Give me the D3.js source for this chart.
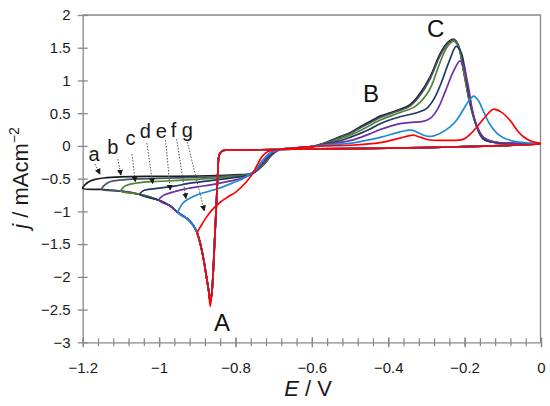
<!DOCTYPE html>
<html>
<head>
<meta charset="utf-8">
<script src="https://cdn.jsdelivr.net/npm/d3@7"></script>
<style>
    body { margin: 0; background: #ffffff; }
    svg { display: block; font-family: "Liberation Sans", Arial, sans-serif; }
</style>
</head>
<body>
<svg id="svg" width="550" height="406"></svg>
<script>
//Globals
const SVG = d3.select("#svg");
const X_TICKS = [-1.2, -1, -0.8, -0.6, -0.4, -0.2, 0];
const Y_TICKS = [-3, -2.5, -2, -1.5, -1, -0.5, 0, 0.5, 1, 1.5, 2];
const CURVE_NAMES = ["a", "b", "c", "d", "e", "f", "g"];
const CURVE_COLORS = ["#1c1c1c", "#44546a", "#548235", "#203864", "#7030a0", "#1f8ad6", "#ff0000"];
const SWITCH_E = [-1.2, -1.15, -1.1, -1.05, -1.0, -0.95, -0.9];
const PEAK_J = [-2.38, -2.38, -2.38, -2.38, -2.38, -2.36, -2.45];

//Cathodic sweep from 0 V down to the nucleation peak
const FORWARD = [
    [0, 0.03], [-0.1, 0.005], [-0.2, -0.01], [-0.3, -0.025], [-0.4, -0.035], [-0.5, -0.04],
    [-0.6, -0.045], [-0.7, -0.055], [-0.8, -0.065], [-0.832, -0.07], [-0.842, -0.13],
    [-0.846, -0.4], [-0.85, -0.9], [-0.854, -1.38], [-0.858, -1.89], [-0.862, -2.25]
];
const PEAK_E = -0.866;
//Falling branch after the peak (shared by all scans)
const ENVELOPE = [
    [-0.870, -2.22], [-0.876, -2.0], [-0.882, -1.78], [-0.888, -1.6], [-0.894, -1.45],
    [-0.9, -1.33], [-0.91, -1.22], [-0.925, -1.12], [-0.95, -1.02], [-0.97, -0.92],
    [-1.0, -0.83], [-1.05, -0.74], [-1.1, -0.69], [-1.15, -0.665], [-1.2, -0.65]
];

//Reverse branches after the switching potential
const REVERSE_A = [[-1.195, -0.6], [-1.185, -0.55], [-1.17, -0.515], [-1.145, -0.49], [-1.1, -0.472], [-1.0, -0.465], [-0.9, -0.46], [-0.825, -0.45], [-0.785, -0.44], [-0.762, -0.43], [-0.745, -0.38], [-0.725, -0.28], [-0.71, -0.17], [-0.70, -0.11], [-0.69, -0.07]];
const REVERSE_B = [[-1.145, -0.61], [-1.135, -0.565], [-1.12, -0.535], [-1.08, -0.51], [-1.0, -0.495], [-0.9, -0.48], [-0.825, -0.46], [-0.785, -0.445], [-0.762, -0.43], [-0.745, -0.38], [-0.725, -0.28], [-0.71, -0.17], [-0.70, -0.11], [-0.69, -0.07]];
const REVERSE_C = [[-1.095, -0.64], [-1.085, -0.6], [-1.063, -0.57], [-1.03, -0.55], [-0.993, -0.54], [-0.95, -0.525], [-0.9, -0.51], [-0.85, -0.49], [-0.8, -0.465], [-0.765, -0.44], [-0.745, -0.385], [-0.727, -0.28], [-0.712, -0.17], [-0.70, -0.11], [-0.69, -0.07]];
const REVERSE_D = [[-1.043, -0.69], [-1.028, -0.665], [-1.0, -0.645], [-0.96, -0.615], [-0.93, -0.58], [-0.9, -0.555], [-0.85, -0.52], [-0.8, -0.48], [-0.768, -0.45], [-0.748, -0.39], [-0.73, -0.28], [-0.714, -0.17], [-0.70, -0.11], [-0.69, -0.07]];
const REVERSE_E = [[-0.99, -0.76], [-0.975, -0.725], [-0.955, -0.69], [-0.93, -0.655], [-0.9, -0.625], [-0.865, -0.595], [-0.825, -0.55], [-0.795, -0.51], [-0.772, -0.47], [-0.752, -0.41], [-0.735, -0.3], [-0.718, -0.18], [-0.705, -0.11], [-0.69, -0.07]];
const REVERSE_F = [[-0.945, -0.94], [-0.935, -0.86], [-0.92, -0.8], [-0.9, -0.745], [-0.865, -0.685], [-0.833, -0.625], [-0.805, -0.56], [-0.781, -0.5], [-0.762, -0.43], [-0.748, -0.37], [-0.733, -0.25], [-0.72, -0.16], [-0.708, -0.1], [-0.69, -0.065]];
const REVERSE_G = [[-0.89, -1.22], [-0.875, -1.08], [-0.86, -0.97], [-0.84, -0.86], [-0.82, -0.78], [-0.80, -0.71], [-0.785, -0.63], [-0.77, -0.54], [-0.755, -0.42], [-0.742, -0.28], [-0.73, -0.16], [-0.716, -0.09], [-0.70, -0.065]];

//Anodic part (stripping peaks B and C)
const ANODIC_START = [[-0.68, -0.05], [-0.66, -0.04], [-0.63, -0.025], [-0.6, -0.01]];
const ANODIC_A = [[-0.56, 0.06], [-0.522, 0.15], [-0.5, 0.2], [-0.465, 0.32], [-0.439, 0.4], [-0.421, 0.455], [-0.378, 0.54], [-0.343, 0.63], [-0.317, 0.8], [-0.29, 1.06], [-0.264, 1.41], [-0.243, 1.59], [-0.228, 1.63], [-0.216, 1.53], [-0.203, 1.16], [-0.186, 0.65], [-0.168, 0.29], [-0.151, 0.11], [-0.116, 0.05], [-0.06, 0.035], [0, 0.03]];
const ANODIC_B = [[-0.56, 0.055], [-0.522, 0.14], [-0.5, 0.19], [-0.465, 0.3], [-0.439, 0.38], [-0.421, 0.435], [-0.378, 0.525], [-0.343, 0.61], [-0.317, 0.77], [-0.29, 1.03], [-0.264, 1.38], [-0.243, 1.57], [-0.228, 1.62], [-0.216, 1.53], [-0.203, 1.16], [-0.186, 0.65], [-0.168, 0.29], [-0.151, 0.11], [-0.116, 0.05], [-0.06, 0.035], [0, 0.03]];
const ANODIC_C = [[-0.56, 0.045], [-0.52, 0.12], [-0.5, 0.165], [-0.465, 0.26], [-0.421, 0.395], [-0.369, 0.51], [-0.33, 0.6], [-0.3, 0.78], [-0.286, 0.93], [-0.264, 1.28], [-0.245, 1.52], [-0.228, 1.60], [-0.216, 1.51], [-0.203, 1.16], [-0.186, 0.65], [-0.168, 0.29], [-0.151, 0.11], [-0.116, 0.05], [-0.06, 0.035], [0, 0.03]];
const ANODIC_D = [[-0.56, 0.035], [-0.52, 0.09], [-0.5, 0.13], [-0.45, 0.25], [-0.421, 0.34], [-0.369, 0.445], [-0.33, 0.5], [-0.3, 0.57], [-0.28, 0.72], [-0.26, 0.98], [-0.24, 1.3], [-0.222, 1.52], [-0.21, 1.44], [-0.2, 1.2], [-0.186, 0.7], [-0.168, 0.3], [-0.151, 0.11], [-0.116, 0.05], [-0.06, 0.035], [0, 0.03]];
const ANODIC_E = [[-0.56, 0.025], [-0.5, 0.08], [-0.45, 0.18], [-0.421, 0.25], [-0.369, 0.34], [-0.34, 0.36], [-0.312, 0.37], [-0.29, 0.42], [-0.27, 0.57], [-0.25, 0.84], [-0.23, 1.13], [-0.212, 1.30], [-0.202, 1.2], [-0.19, 0.9], [-0.178, 0.5], [-0.165, 0.27], [-0.15, 0.13], [-0.12, 0.06], [-0.06, 0.04], [0, 0.03]];
const ANODIC_F = [[-0.56, 0.015], [-0.5, 0.04], [-0.421, 0.13], [-0.369, 0.215], [-0.339, 0.24], [-0.31, 0.17], [-0.29, 0.145], [-0.265, 0.19], [-0.238, 0.29], [-0.22, 0.4], [-0.203, 0.56], [-0.185, 0.72], [-0.176, 0.76], [-0.165, 0.7], [-0.15, 0.52], [-0.134, 0.33], [-0.115, 0.19], [-0.1, 0.13], [-0.07, 0.07], [-0.03, 0.045], [0, 0.035]];
const ANODIC_G = [[-0.56, 0.0], [-0.5, 0.01], [-0.421, 0.05], [-0.369, 0.12], [-0.335, 0.165], [-0.315, 0.13], [-0.29, 0.09], [-0.25, 0.085], [-0.204, 0.1], [-0.185, 0.18], [-0.168, 0.29], [-0.145, 0.45], [-0.125, 0.56], [-0.105, 0.52], [-0.081, 0.39], [-0.06, 0.22], [-0.046, 0.14], [-0.025, 0.07], [0, 0.04]];

const REVERSES = [REVERSE_A, REVERSE_B, REVERSE_C, REVERSE_D, REVERSE_E, REVERSE_F, REVERSE_G];
const ANODICS = [ANODIC_A, ANODIC_B, ANODIC_C, ANODIC_D, ANODIC_E, ANODIC_F, ANODIC_G];

//Annotation letters a-g with dotted arrows: label position, arrow start, arrow tip
const LETTER_POS = [[-1.170, -0.232], [-1.121, -0.125], [-1.075, 0.012], [-1.036, 0.119], [-0.994, 0.119], [-0.962, 0.135], [-0.926, 0.135]];
const ARROW_FROM = [[-1.168, -0.278], [-1.108, -0.202], [-1.071, -0.125], [-1.032, 0.043], [-0.983, 0.089], [-0.954, 0.104], [-0.928, 0.104]];
const ARROW_TO = [[-1.1545, -0.431], [-1.0997, -0.446], [-1.0623, -0.546], [-1.0167, -0.576], [-0.9706, -0.676], [-0.9295, -0.806], [-0.8816, -0.992]];
const PEAK_LABELS = ["A", "B", "C"];
const PEAK_LABEL_POS = [[-0.835, -2.82], [-0.445, 0.67], [-0.276, 1.66]];

const LEFT = 82.7, RIGHT = 541, TOP = 15, BOTTOM = 342.3;
const AXIS_COLOR = "#888888";

main();

function main()
{
    let x_scale = d3.scaleLinear().domain([-1.2, 0]).range([LEFT, RIGHT]);
    let y_scale = d3.scaleLinear().domain([-3, 2]).range([BOTTOM, TOP]);
    let fmt = d3.format("~g");

    //Frame (top and right)
    SVG.append("path")
        .attr("d", `M${LEFT},${TOP}H${RIGHT - 0.5}V${BOTTOM}`)
        .attr("fill", "none")
        .attr("stroke", AXIS_COLOR)
        .attr("stroke-width", 1.3);

    //Minor x ticks
    let minor = SVG.append("g")
        .attr("transform", `translate(0, ${BOTTOM})`)
        .call(d3.axisBottom(x_scale).tickValues(d3.range(-1.2, 0.001, 0.04)).tickFormat("").tickSize(0));
    minor.select(".domain").remove();
    minor.selectAll(".tick line").attr("y1", -4).attr("y2", 4).attr("stroke", AXIS_COLOR).attr("stroke-width", 1.2);

    //X axis
    let x_axis = SVG.append("g")
        .attr("transform", `translate(0, ${BOTTOM})`)
        .call(d3.axisBottom(x_scale).tickValues(X_TICKS).tickFormat(fmt).tickSize(0).tickPadding(0));
    x_axis.select(".domain").attr("stroke", AXIS_COLOR).attr("stroke-width", 1.3);
    x_axis.selectAll(".tick line").attr("y1", -5).attr("y2", 5).attr("stroke", AXIS_COLOR).attr("stroke-width", 1.3);
    x_axis.selectAll(".tick text").attr("y", 31).attr("dy", null)
        .attr("font-size", 15).attr("font-family", "Liberation Sans, Arial").attr("fill", "#1a1a1a");

    //Y axis
    let y_axis = SVG.append("g")
        .attr("transform", `translate(${LEFT}, 0)`)
        .call(d3.axisLeft(y_scale).tickValues(Y_TICKS).tickFormat(fmt).tickSize(0).tickPadding(0));
    y_axis.select(".domain").attr("stroke", AXIS_COLOR).attr("stroke-width", 1.3);
    y_axis.selectAll(".tick line").attr("x1", -5).attr("x2", 5).attr("stroke", AXIS_COLOR).attr("stroke-width", 1.3);
    y_axis.selectAll(".tick text").attr("x", -12)
        .attr("font-size", 15).attr("font-family", "Liberation Sans, Arial").attr("fill", "#1a1a1a");

    //Axis titles
    let x_title = SVG.append("text")
        .attr("x", 308).attr("y", 396)
        .attr("text-anchor", "middle")
        .attr("font-size", 22)
        .attr("fill", "#1a1a1a")
        .style("white-space", "pre");
    x_title.append("tspan").attr("font-style", "italic").text("E");
    x_title.append("tspan").text(" / V");

    let y_title = SVG.append("text")
        .attr("transform", "translate(28, 178) rotate(-90)")
        .attr("text-anchor", "middle")
        .attr("font-size", 22)
        .attr("fill", "#1a1a1a")
        .style("white-space", "pre");
    y_title.append("tspan").attr("font-style", "italic").text("j");
    y_title.append("tspan").text(" / mAcm");
    y_title.append("tspan").attr("font-size", 14).attr("dy", -9).text("\u22122");

    //Curves
    let line = d3.line()
        .x(d => x_scale(d[0]))
        .y(d => y_scale(d[1]))
        .curve(d3.curveCatmullRom.alpha(0.5));

    let curves = CURVE_NAMES.map((name, i) => {
        let envelope = ENVELOPE.filter(p => p[0] >= SWITCH_E[i] - 1e-9);
        return FORWARD.concat([[PEAK_E, PEAK_J[i]]], envelope, REVERSES[i], ANODIC_START, ANODICS[i]);
    });

    SVG.append("g")
        .selectAll("path")
        .data(curves)
        .enter().append("path")
        .attr("d", line)
        .attr("fill", "none")
        .attr("stroke", (d, i) => CURVE_COLORS[i])
        .attr("stroke-width", 1.7)
        .attr("stroke-linejoin", "round");

    //Arrow marker
    SVG.append("defs").append("marker")
        .attr("id", "arrowhead")
        .attr("viewBox", "0 0 10 10")
        .attr("refX", 9).attr("refY", 5)
        .attr("markerWidth", 6).attr("markerHeight", 6)
        .attr("markerUnits", "userSpaceOnUse")
        .attr("orient", "auto")
        .append("path")
        .attr("d", "M0,0L10,5L0,10Z")
        .attr("fill", "#1a1a1a");

    //Dotted arrows and letters
    let notes = SVG.append("g");
    CURVE_NAMES.forEach((name, i) => {
        notes.append("line")
            .attr("x1", x_scale(ARROW_FROM[i][0])).attr("y1", y_scale(ARROW_FROM[i][1]))
            .attr("x2", x_scale(ARROW_TO[i][0])).attr("y2", y_scale(ARROW_TO[i][1]))
            .attr("stroke", "#555555")
            .attr("stroke-width", 1)
            .attr("stroke-dasharray", "1.5,1.5")
            .attr("marker-end", "url(#arrowhead)");
        notes.append("text")
            .attr("x", x_scale(LETTER_POS[i][0])).attr("y", y_scale(LETTER_POS[i][1]))
            .attr("text-anchor", "middle")
            .attr("font-size", 20)
            .attr("fill", "#1a1a1a")
            .text(name);
    });

    PEAK_LABELS.forEach((label, i) => {
        notes.append("text")
            .attr("x", x_scale(PEAK_LABEL_POS[i][0])).attr("y", y_scale(PEAK_LABEL_POS[i][1]))
            .attr("text-anchor", "middle")
            .attr("font-size", 24)
            .attr("fill", "#111111")
            .text(label);
    });
}
</script>
</body>
</html>
